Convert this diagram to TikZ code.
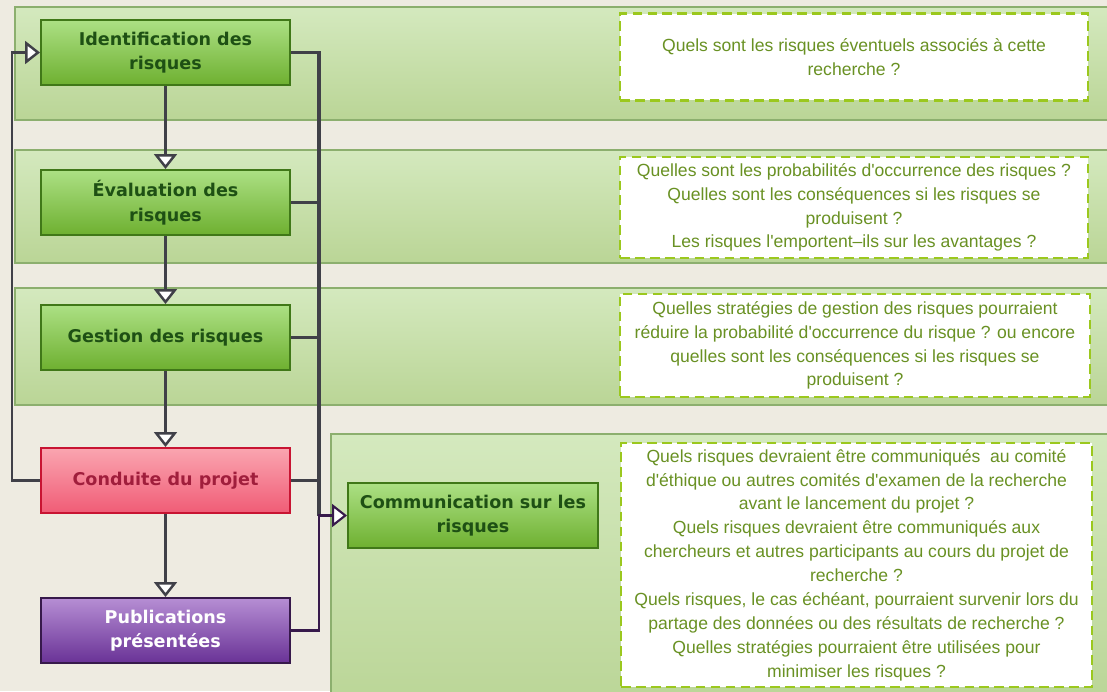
\documentclass[tikz,border=0pt]{standalone}
\usepackage{fontspec}
\setmainfont{Liberation Sans}[Ligatures=TeXOff]
\newfontfamily\boxfont{DejaVu Sans}
\usepackage{xcolor}
\usetikzlibrary{arrows.meta, positioning}

\definecolor{paper}{RGB}{238, 235, 225}
\definecolor{bandtop}{RGB}{212, 233, 190}
\definecolor{bandbot}{RGB}{186, 213, 150}
\definecolor{bandline}{RGB}{140, 175, 110}
\definecolor{stagetop}{RGB}{172, 224, 132}
\definecolor{stagebot}{RGB}{110, 176, 48}
\definecolor{stageline}{RGB}{64, 120, 24}
\definecolor{stagetext}{RGB}{30, 80, 20}
\definecolor{projtop}{RGB}{250, 165, 176}
\definecolor{projbot}{RGB}{240, 92, 118}
\definecolor{projline}{RGB}{200, 20, 50}
\definecolor{projtext}{RGB}{160, 30, 60}
\definecolor{pubtop}{RGB}{182, 142, 212}
\definecolor{pubbot}{RGB}{105, 50, 150}
\definecolor{publine}{RGB}{55, 25, 75}
\definecolor{linkgray}{RGB}{64, 64, 72}
\definecolor{quesline}{RGB}{155, 200, 30}
\definecolor{questext}{RGB}{105, 145, 35}

\begin{document}
\begin{tikzpicture}[
  x=0.02cm, y=-0.02cm,
  openTri/.tip={Triangle[width=13pt, length=8.5pt, fill=white]},
  band/.style={draw=bandline, line width=1.1pt,
               top color=bandtop, bottom color=bandbot},
  stage/.style={rectangle, draw=stageline, line width=1.1pt,
                top color=stagetop, bottom color=stagebot, text=stagetext,
                font=\boxfont\bfseries\fontsize{10}{14}\selectfont,
                align=center, inner sep=0pt,
                minimum width=4.98cm, minimum height=1.3cm},
  projstage/.style={stage, draw=projline, top color=projtop,
                    bottom color=projbot, text=projtext},
  pubstage/.style={stage, draw=publine, top color=pubtop,
                   bottom color=pubbot, text=white},
  question/.style={rectangle, draw=quesline, fill=white, line width=1.4pt,
                   dash pattern=on 5.5pt off 3pt, text=questext,
                   font=\fontsize{10}{13.6}\selectfont,
                   align=center, inner sep=0pt},
  link/.style={draw=linkgray, line width=1.4pt},
  bus/.style={draw=linkgray, line width=2pt},
  publink/.style={draw=publine, line width=1.2pt}
]

\useasboundingbox (0,0) rectangle (1107,691);
\clip (0,0) rectangle (1107,691);
\fill[paper] (0,0) rectangle (1107,691);

% bands
\draw[band] (15,7)   rectangle (1125,120);
\draw[band] (15,150) rectangle (1125,263);
\draw[band] (15,288) rectangle (1125,405);
\draw[band] (331,434) rectangle (1125,710);

% stages
\node[stage] (ident) at (165.5,52.5) {Identification des\\risques};
\node[stage] (eval)  at (165.5,202.5) {Évaluation des\\risques};
\node[stage] (gest)  at (165.5,337.5) {Gestion des risques};
\node[projstage] (cond) at (165.5,480.5) {Conduite du projet};
\node[pubstage] (publi) at (165.5,630.5) {Publications\\présentées};
\node[stage, minimum width=5cm] (comm) at (473,515.5) {Communication sur les\\risques};

% questions
\node[question, minimum width=9.36cm, minimum height=1.74cm] (q1) at (854,57)
  {Quels sont les risques éventuels associés à cette\\recherche ?};
\node[question, minimum width=9.36cm, minimum height=2.02cm] (q2) at (854,207.5)
  {Quelles sont les probabilités d'occurrence des risques ?\\
   Quelles sont les conséquences si les risques se\\
   produisent ?\\
   Les risques l'emportent–ils sur les avantages ?};
\node[question, minimum width=9.4cm, minimum height=2.06cm] (q3) at (855,345.5)
  {Quelles stratégies de gestion des risques pourraient\\
   réduire la probabilité d'occurrence du risque ? ou encore\\
   quelles sont les conséquences si les risques se\\
   produisent ?};
\node[question, minimum width=9.42cm, minimum height=4.88cm] (q4) at (856.5,565)
  {Quels risques devraient être communiqués\ \ au comité\\
   d'éthique ou autres comités d'examen de la recherche\\
   avant le lancement du projet ?\\
   Quels risques devraient être communiqués aux\\
   chercheurs et autres participants au cours du projet de\\
   recherche ?\\
   Quels risques, le cas échéant, pourraient survenir lors du\\
   partage des données ou des résultats de recherche ?\\
   Quelles stratégies pourraient être utilisées pour\\
   minimiser les risques ?};

% main flow
\draw[link, -openTri] (ident) -- (eval);
\draw[link, -openTri] (eval) -- (gest);
\draw[link, -openTri] (gest) -- (cond);
\draw[link, -openTri] (cond) -- (publi);
\draw[link, -openTri] (cond.west) -- ++(-28,0) |- (ident.west);

% bus to communication
\coordinate (busx) at (319,0);
\draw[link] (eval.east) -- (eval.east -| busx);
\draw[link] (gest.east) -- (gest.east -| busx);
\draw[link] (cond.east) -- (cond.east -| busx);
\draw[bus] (ident.east) -| (busx |- comm.west);
\draw[publink, -openTri] (publi.east) -| (busx |- comm.west) -- (comm.west);

\end{tikzpicture}
\end{document}
